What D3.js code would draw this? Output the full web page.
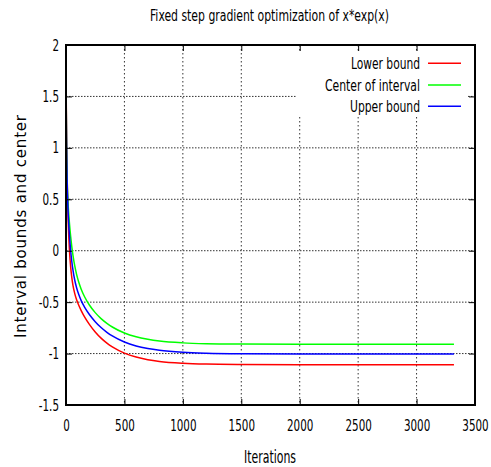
<!DOCTYPE html>
<html>
<head>
<meta charset="utf-8">
<script src="https://cdn.jsdelivr.net/npm/d3@7"></script>
<style>
  body { margin: 0; background: #fff; }
  svg { display: block; }
</style>
</head>
<body>
<svg id="chart" width="491" height="467"></svg>
<script>
// ---- data ----
const title = "Fixed step gradient optimization of x*exp(x)";
const xLabel = "Iterations";
const yLabel = "Interval bounds and center";
const xTicks = [0, 500, 1000, 1500, 2000, 2500, 3000, 3500];
const yTicks = [-1.5, -1, -0.5, 0, 0.5, 1, 1.5, 2];
const seriesNames = ["Lower bound", "Center of interval", "Upper bound"];
const seriesColors = ["#ff0000", "#00ff00", "#0000ff"];

const iterations = [0, 2, 4, 6, 9, 12, 16, 20, 25, 30, 40, 50, 60, 75, 90, 110, 130, 160, 200, 250, 300, 350, 400, 500, 600, 700, 800, 1000, 1200, 1500, 2000, 2500, 3000, 3320];
const lowerBound = [1.792, 1.476, 1.222, 1.016, 0.773, 0.585, 0.393, 0.247, 0.105, -0.004, -0.160, -0.264, -0.339, -0.417, -0.474, -0.533, -0.582, -0.646, -0.716, -0.790, -0.850, -0.899, -0.938, -0.996, -1.034, -1.059, -1.076, -1.094, -1.102, -1.106, -1.108, -1.108, -1.108, -1.108];
const centerOfInterval = [1.900, 1.425, 1.120, 0.918, 0.726, 0.605, 0.496, 0.415, 0.331, 0.259, 0.137, 0.036, -0.047, -0.148, -0.227, -0.309, -0.374, -0.450, -0.528, -0.602, -0.660, -0.706, -0.744, -0.800, -0.837, -0.861, -0.878, -0.896, -0.904, -0.908, -0.910, -0.910, -0.910, -0.910];
const upperBound = [1.850, 1.403, 1.107, 0.904, 0.700, 0.563, 0.432, 0.331, 0.228, 0.141, 0.000, -0.107, -0.191, -0.287, -0.357, -0.429, -0.485, -0.550, -0.620, -0.690, -0.747, -0.793, -0.831, -0.888, -0.926, -0.951, -0.968, -0.987, -0.996, -1.001, -1.003, -1.003, -1.003, -1.003];
const seriesValues = [lowerBound, centerOfInterval, upperBound];

// ---- layout ----
const plot = { left: 66, right: 475, top: 45, bottom: 405 };
const condensed = "'DejaVu Sans Condensed', 'Liberation Sans Narrow', 'DejaVu Sans', sans-serif";
const sx = 0.72;

const svg = d3.select("#chart");
const x = d3.scaleLinear().domain([0, 3500]).range([plot.left, plot.right]);
const y = d3.scaleLinear().domain([-1.5, 2]).range([plot.bottom, plot.top]);

// grid
const grid = svg.append("g");
grid.selectAll("line.gx").data(xTicks.slice(1, -1)).join("line")
  .attr("x1", d => x(d)).attr("x2", d => x(d))
  .attr("y1", plot.top).attr("y2", plot.bottom)
  .attr("stroke", "#333").attr("stroke-width", 1).attr("stroke-dasharray", "1.5,2.5");
grid.selectAll("line.gy").data(yTicks.slice(1, -1)).join("line")
  .attr("x1", plot.left).attr("x2", plot.right)
  .attr("y1", d => y(d)).attr("y2", d => y(d))
  .attr("stroke", "#333").attr("stroke-width", 1).attr("stroke-dasharray", "1.5,1.5");

// legend background (opaque key box)
svg.append("rect").attr("x", 296).attr("y", 53).attr("width", 172).attr("height", 64).attr("fill", "#fff");

// curves
const line = d3.line().curve(d3.curveMonotoneX)
  .x((d, i) => x(iterations[i])).y(d => y(d));
seriesValues.forEach((vals, k) => {
  svg.append("path").datum(vals).attr("d", line)
    .attr("fill", "none").attr("stroke", seriesColors[k]).attr("stroke-width", 1.5);
});

// axes (inward ticks)
const fmt = d => String(d);
const xAxis = svg.append("g").attr("transform", `translate(0,${plot.bottom})`)
  .call(d3.axisBottom(x).tickValues(xTicks).tickFormat(fmt).tickSize(-6).tickPadding(15));
const xAxisTop = svg.append("g").attr("transform", `translate(0,${plot.top})`)
  .call(d3.axisTop(x).tickValues(xTicks).tickFormat("").tickSize(-6));
const yAxis = svg.append("g").attr("transform", `translate(${plot.left},0)`)
  .call(d3.axisLeft(y).tickValues(yTicks).tickFormat(fmt).tickSize(-6).tickPadding(7));
const yAxisRight = svg.append("g").attr("transform", `translate(${plot.right},0)`)
  .call(d3.axisRight(y).tickValues(yTicks).tickFormat("").tickSize(-6));

[xAxis, xAxisTop, yAxis, yAxisRight].forEach(g => {
  g.select(".domain").remove();
  g.selectAll(".tick line").attr("stroke", "#000").attr("stroke-width", 1);
});
[xAxis, yAxis].forEach(g => {
  g.selectAll(".tick text")
    .attr("font-family", condensed).attr("font-size", 16).attr("fill", "#000");
});
xAxis.selectAll(".tick text").attr("transform", `scale(${sx},1)`);
yAxis.selectAll(".tick text").attr("x", -7 / sx).attr("transform", `scale(${sx},1)`);

// border
svg.append("rect").attr("x", plot.left).attr("y", plot.top)
  .attr("width", plot.right - plot.left).attr("height", plot.bottom - plot.top)
  .attr("fill", "none").attr("stroke", "#000").attr("stroke-width", 2);

// legend
const legendRows = [63.3, 85, 106.3];
const legendWidths = [69, 95, 70];
seriesNames.forEach((name, k) => {
  svg.append("text").text(name)
    .attr("x", 420).attr("y", legendRows[k] + 6)
    .attr("text-anchor", "end")
    .attr("font-family", condensed).attr("font-size", 16).attr("fill", "#000")
    .attr("textLength", legendWidths[k]).attr("lengthAdjust", "spacingAndGlyphs");
  svg.append("line")
    .attr("x1", 428).attr("x2", 461).attr("y1", legendRows[k]).attr("y2", legendRows[k])
    .attr("stroke", seriesColors[k]).attr("stroke-width", 1.5);
});

// title and axis labels
svg.append("text").text(title)
  .attr("x", 150).attr("y", 20.5)
  .attr("font-family", condensed).attr("font-size", 16).attr("fill", "#000")
  .attr("textLength", 239).attr("lengthAdjust", "spacingAndGlyphs");
svg.append("text").text(xLabel)
  .attr("x", 244).attr("y", 463)
  .attr("font-family", condensed).attr("font-size", 17).attr("fill", "#000")
  .attr("textLength", 52).attr("lengthAdjust", "spacingAndGlyphs");
svg.append("text").text(yLabel)
  .attr("transform", "translate(26,338) rotate(-90)")
  .attr("x", 0).attr("y", 0)
  .attr("font-family", "'DejaVu Sans', sans-serif").attr("font-size", 15).attr("fill", "#000")
  .attr("textLength", 223).attr("lengthAdjust", "spacing");
</script>
</body>
</html>
